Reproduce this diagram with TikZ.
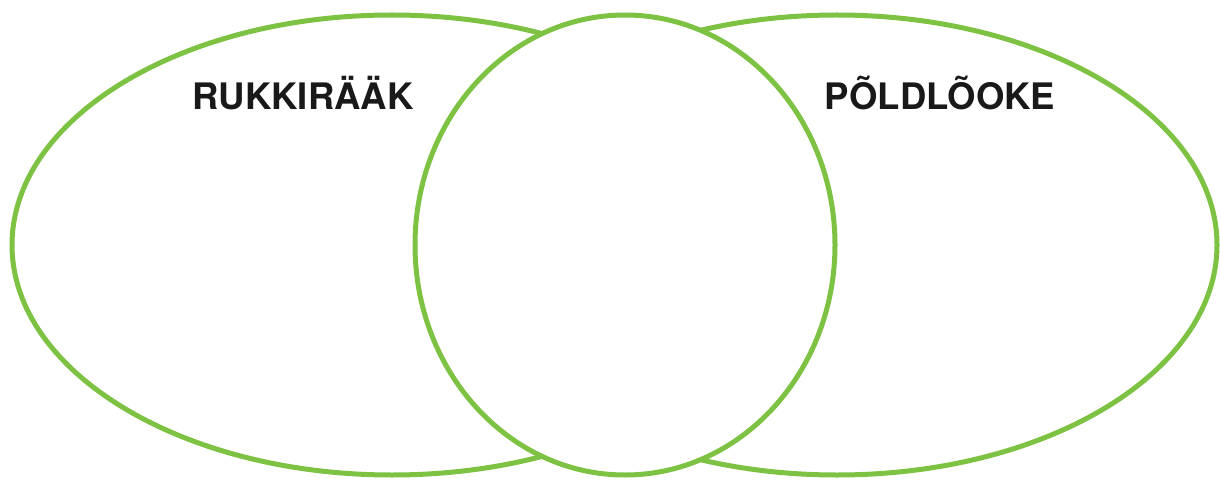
\documentclass[tikz,border=0pt]{standalone}
\usepackage{fontspec}
\setmainfont{TeX Gyre Heros}
\usetikzlibrary{shapes.geometric}
\definecolor{vgreen}{RGB}{125,194,66}
\begin{document}
\begin{tikzpicture}[x=1pt,y=1pt,
  ring/.style={draw=vgreen,line width=5pt,ellipse,inner sep=0pt},
  title/.style={font=\fontsize{36.5}{40}\selectfont\bfseries,text=black!90,inner sep=0pt,anchor=center}]
\useasboundingbox (0,0) rectangle (1220,480);
\node[ring,minimum width=760pt,minimum height=460pt] (L) at (392,235) {};
\node[ring,minimum width=760pt,minimum height=460pt] (R) at (837,235) {};
\node[ring,fill=white,minimum width=420pt,minimum height=460pt] (C) at (625,235) {};
\node[title] (tl) at (303,387) {RUKKIRÄÄK};
\node[title] (tr) at (940,387) {PÕLDLÕOKE};
\end{tikzpicture}
\end{document}
